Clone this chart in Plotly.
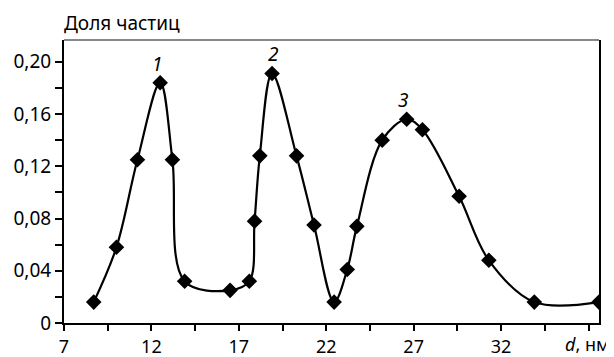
import plotly.graph_objects as go

d_nm = [8.7, 10.0, 11.2, 12.5, 13.2, 13.9, 16.5, 17.6, 17.9, 18.2, 18.9, 20.3, 21.3,
        22.45, 23.2, 23.75, 25.2, 26.6, 27.5, 29.6, 31.3, 33.9, 37.6]
share = [0.016, 0.058, 0.125, 0.184, 0.125, 0.032, 0.025, 0.032, 0.078, 0.128, 0.191, 0.128, 0.075,
         0.016, 0.041, 0.074, 0.140, 0.156, 0.148, 0.097, 0.048, 0.016, 0.016]

x_tickvals = [7, 12, 17, 22, 27, 32, 37]
x_ticktext = ["7", "12", "17", "22", "27", "32", ""]
x_axis_label = "<i>d</i>, нм"
y_tickvals = [0, 0.04, 0.08, 0.12, 0.16, 0.20]
y_ticktext = ["0", "0,04", "0,08", "0,12", "0,16", "0,20"]

peak_labels = ["1", "2", "3"]
peak_x = [12.3, 19.0, 26.4]
peak_y = [0.198, 0.206, 0.171]

FONT = "Noto Sans"
FS = 19
FSX = 18

fig = go.Figure()
fig.add_trace(go.Scatter(
    x=d_nm, y=share, mode="lines+markers",
    line=dict(color="black", width=2.2, shape="spline", smoothing=1.0),
    marker=dict(symbol="diamond", size=12, color="black"),
    showlegend=False, hoverinfo="skip"))

for t, x, y in zip(peak_labels, peak_x, peak_y):
    fig.add_annotation(x=x, y=y, text=f"<i>{t}</i>", showarrow=False,
                       font=dict(family=FONT, size=FS, color="black"))

fig.add_annotation(xref="paper", yref="paper", x=0, y=1, xanchor="left", yanchor="bottom",
                   yshift=2, xshift=-2, text="Доля частиц", showarrow=False,
                   font=dict(family=FONT, size=FS, color="black"))

# axis label at the place of the last x tick label
fig.add_annotation(xref="paper", yref="paper", x=1, y=0, xanchor="right", yanchor="top",
                   xshift=13, yshift=-7, text=x_axis_label, showarrow=False,
                   font=dict(family=FONT, size=FSX, color="black"))

fig.add_shape(type="line", xref="paper", yref="paper", x0=0, x1=1, y0=1, y1=1,
              line=dict(color="#888888", width=2))

# page body has an 8px margin: shrink the figure so the plot area lands where the reference has it
fig.update_layout(
    width=606, height=349,
    margin=dict(l=56, r=15, t=32, b=34, autoexpand=False),
    paper_bgcolor="white", plot_bgcolor="white",
    font=dict(family=FONT, size=FS, color="black"),
    xaxis=dict(range=[7, 37.6], tickvals=x_tickvals, ticktext=x_ticktext, automargin=False,
               tickfont=dict(size=FSX),
               showgrid=False, zeroline=False, showline=True, linecolor="black", linewidth=2,
               ticks="outside", ticklen=6, tickwidth=2, tickcolor="black",
               minor=dict(tickvals=[9.5, 14.5, 19.5, 24.5, 29.5, 34.5], ticks="outside",
                          ticklen=6, tickwidth=2, tickcolor="black")),
    yaxis=dict(range=[0, 0.2167], tickvals=y_tickvals, ticktext=y_ticktext, automargin=False,
               showgrid=False, zeroline=False, showline=True, linecolor="black", linewidth=2,
               mirror=True,
               ticks="outside", ticklen=7, tickwidth=2, tickcolor="black",
               minor=dict(tickvals=[0.02, 0.06, 0.10, 0.14, 0.18], ticks="outside",
                          ticklen=7, tickwidth=2, tickcolor="black")),
)

fig.write_html("out.html")
